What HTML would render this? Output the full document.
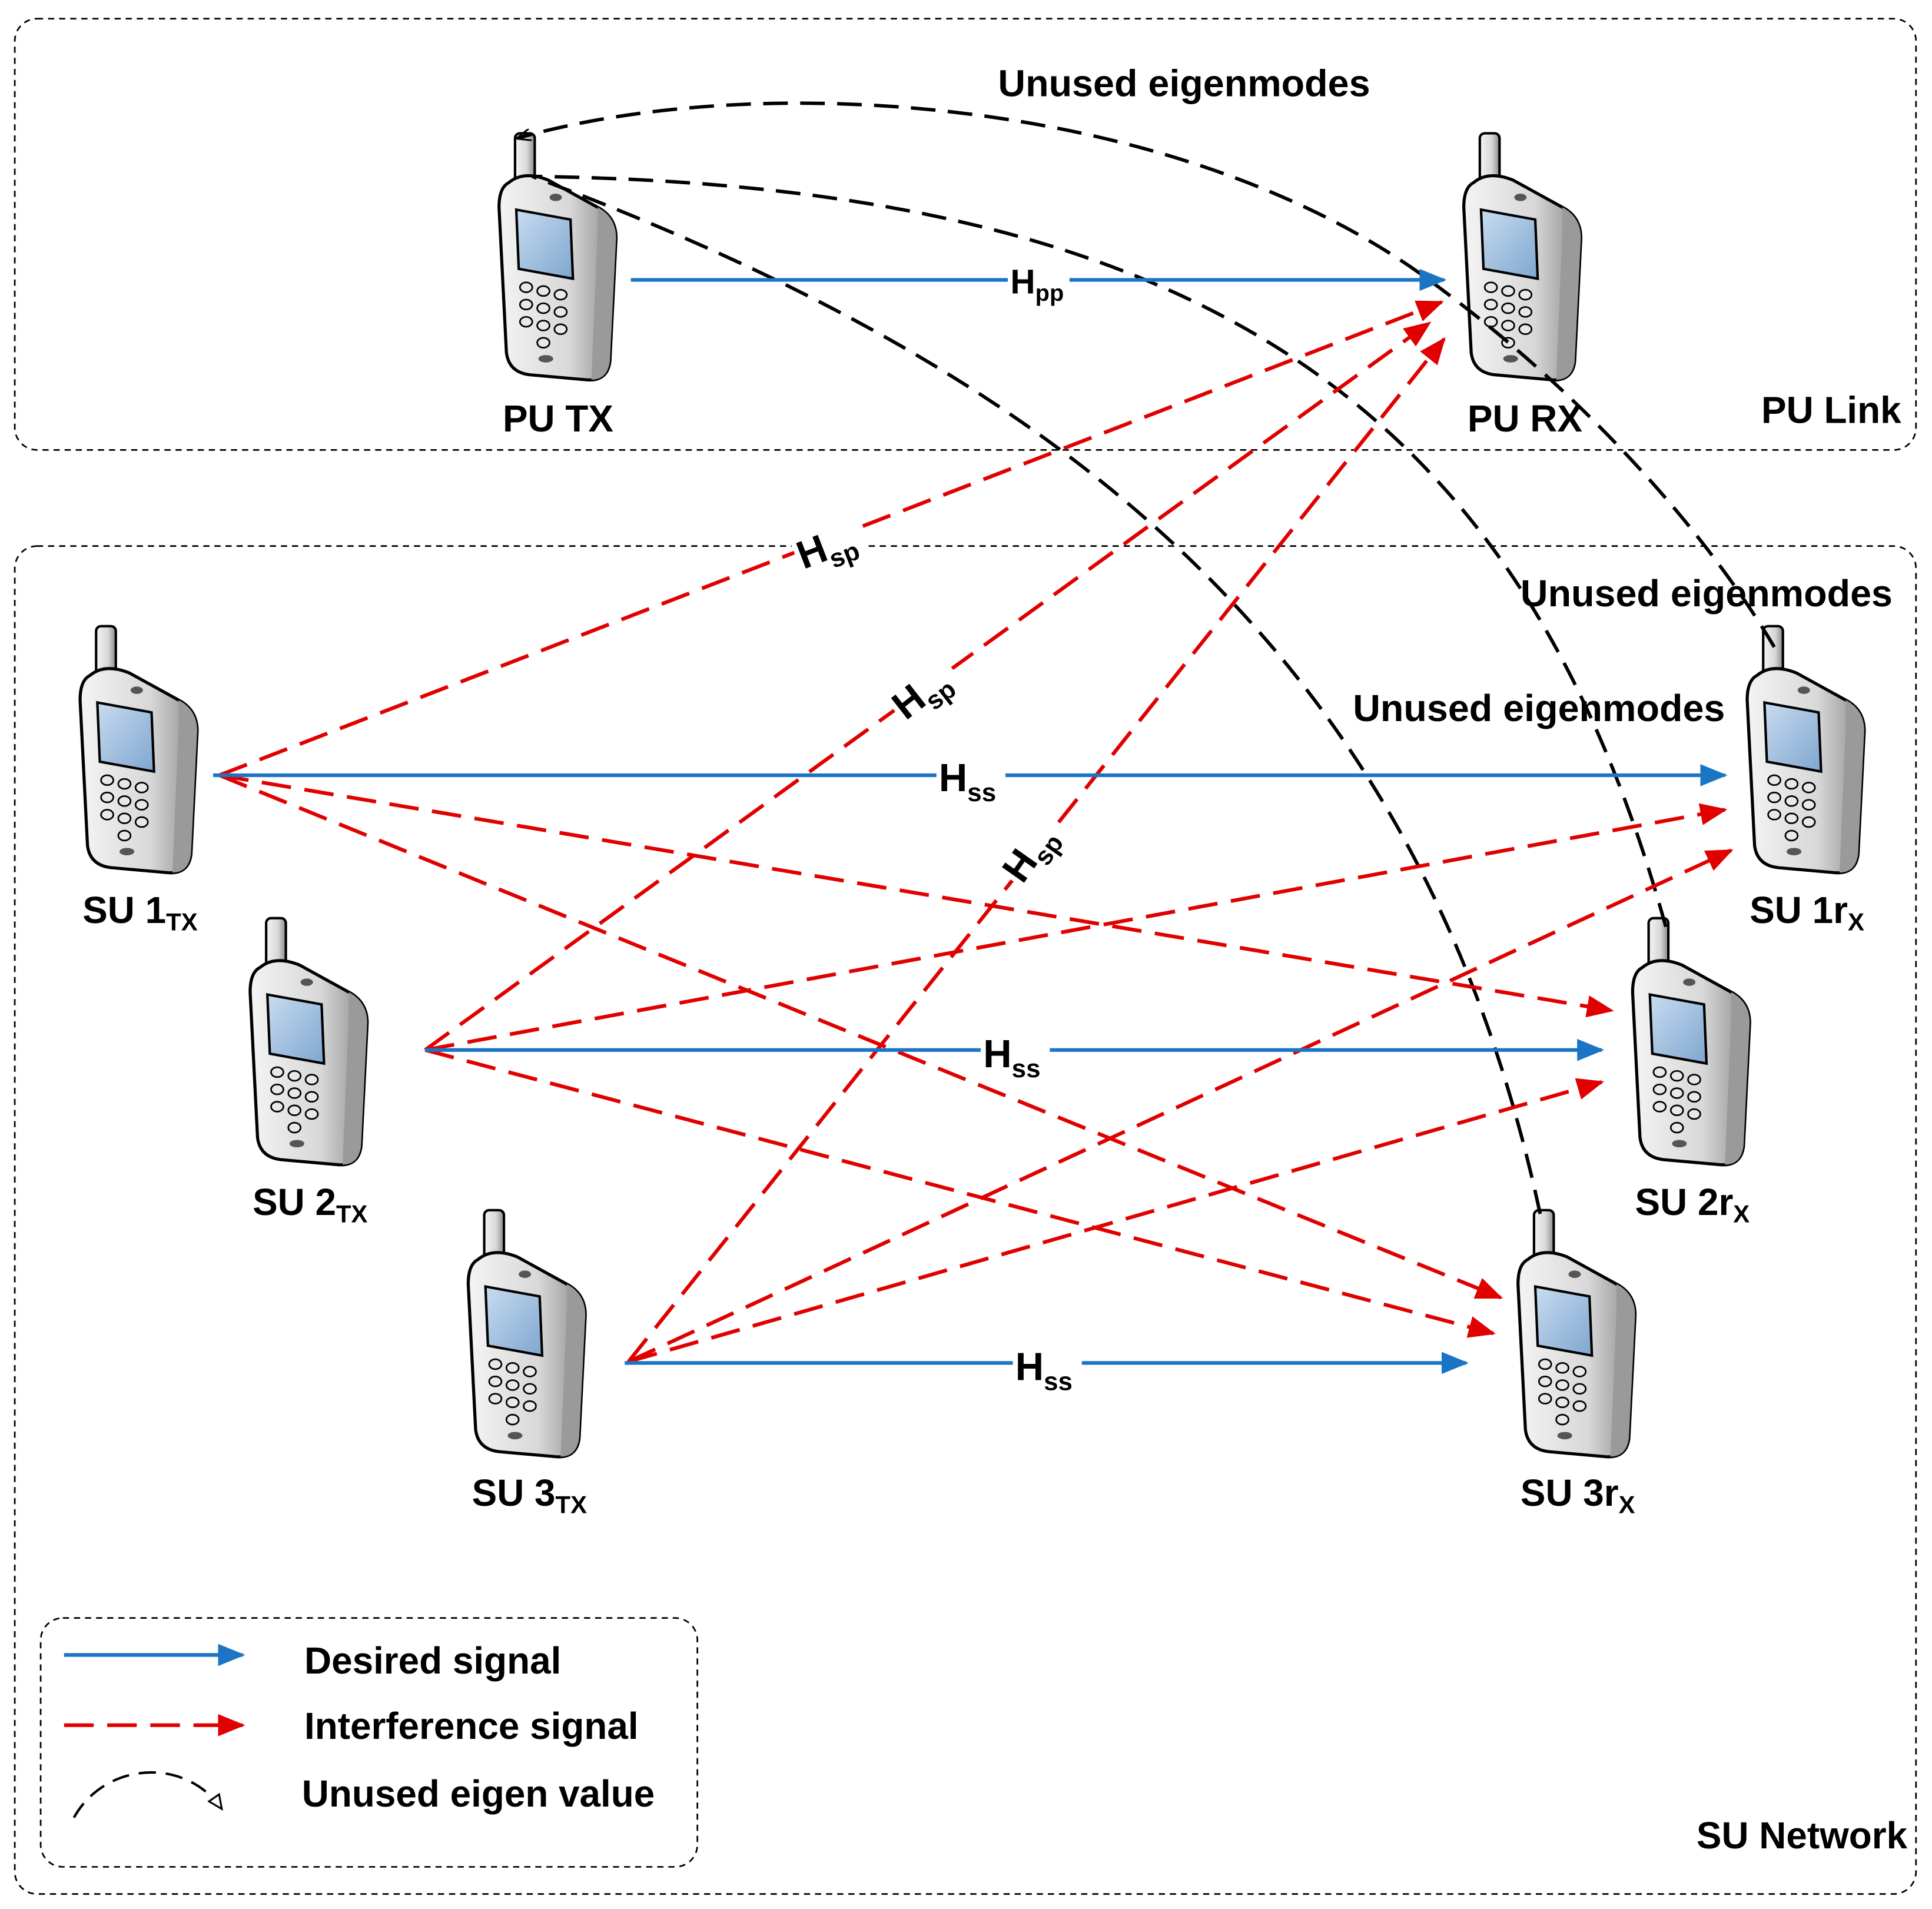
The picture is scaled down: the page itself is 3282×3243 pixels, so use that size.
<!DOCTYPE html>
<html><head><meta charset="utf-8"><style>
html,body{margin:0;padding:0;background:#fff}
svg{display:block}
text{font-family:"Liberation Sans",sans-serif;font-weight:bold;fill:#000}
</style></head><body>
<svg width="3282" height="3243" viewBox="0 0 1568 1549" xmlns="http://www.w3.org/2000/svg">
<defs>
<linearGradient id="body" x1="0" x2="1" y1="0" y2="0">
<stop offset="0" stop-color="#f4f4f4"/><stop offset="0.6" stop-color="#d8d8d8"/><stop offset="1" stop-color="#8a8a8a"/>
</linearGradient>
<linearGradient id="scr" x1="0" x2="1" y1="0" y2="1">
<stop offset="0" stop-color="#c8dcf0"/><stop offset="1" stop-color="#7fa6cf"/>
</linearGradient>
<g id="phone">
<rect x="13" y="0" width="16" height="45" rx="4" fill="url(#body)" stroke="#000" stroke-width="2"/>
<path d="M8,40 Q20,30 40,38 L80,60 Q95,68 95,85 L90,185 Q88,202 70,200 L25,196 Q8,194 6,178 L0,60 Q0,44 8,40 Z" fill="url(#body)" stroke="#000" stroke-width="2.5"/>
<path d="M80,60 Q95,68 95,85 L90,185 Q88,200 75,200 L80,80 Z" fill="#9a9a9a"/>
<ellipse cx="46" cy="52" rx="5" ry="3" fill="#555"/>
<path d="M14,62 L58,70 L60,118 L16,110 Z" fill="url(#scr)" stroke="#000" stroke-width="2"/>
<g fill="#e8e8e8" stroke="#000" stroke-width="1.3">
<ellipse cx="22" cy="125" rx="5" ry="4"/><ellipse cx="36" cy="128" rx="5" ry="4"/><ellipse cx="50" cy="131" rx="5" ry="4"/>
<ellipse cx="22" cy="139" rx="5" ry="4"/><ellipse cx="36" cy="142" rx="5" ry="4"/><ellipse cx="50" cy="145" rx="5" ry="4"/>
<ellipse cx="22" cy="153" rx="5" ry="4"/><ellipse cx="36" cy="156" rx="5" ry="4"/><ellipse cx="50" cy="159" rx="5" ry="4"/>
<ellipse cx="36" cy="170" rx="5" ry="4"/>
</g>
<ellipse cx="38" cy="183" rx="6" ry="3" fill="#555"/>
</g>
<marker id="ar" markerWidth="22" markerHeight="18" refX="20" refY="9" orient="auto" markerUnits="userSpaceOnUse"><path d="M0,0 L22,9 L0,18 Z" fill="#e00000"/></marker>
<marker id="abig" markerWidth="22" markerHeight="18" refX="20" refY="9" orient="auto" markerUnits="userSpaceOnUse"><path d="M0,0 L22,9 L0,18 Z" fill="#1b75c4"/></marker>
<marker id="ak" markerWidth="12" markerHeight="10" refX="11" refY="5" orient="auto" markerUnits="userSpaceOnUse"><path d="M0,0 L12,5 L0,10" fill="none" stroke="#000" stroke-width="1.5"/></marker>
<marker id="ao" markerWidth="14" markerHeight="12" refX="12" refY="6" orient="auto" markerUnits="userSpaceOnUse"><path d="M1,1 L12,6 L1,11 Z" fill="#fff" stroke="#000" stroke-width="1.5"/></marker>
</defs>

<rect x="12" y="15" width="1543" height="350" rx="18" fill="none" stroke="#000" stroke-width="1.3" stroke-dasharray="5,4"/>
<rect x="12" y="443" width="1543" height="1094" rx="18" fill="none" stroke="#000" stroke-width="1.3" stroke-dasharray="5,4"/>
<rect x="33" y="1313" width="533" height="202" rx="18" fill="none" stroke="#000" stroke-width="1.3" stroke-dasharray="5,4"/>

<use href="#phone" x="405" y="108"/>
<use href="#phone" x="1188" y="108"/>
<use href="#phone" x="65" y="508"/>
<use href="#phone" x="203" y="745"/>
<use href="#phone" x="380" y="982"/>
<use href="#phone" x="1418" y="508"/>
<use href="#phone" x="1325" y="745"/>
<use href="#phone" x="1232" y="982"/>

<g fill="none" stroke="#000" stroke-width="2.8" stroke-dasharray="20,10">
<path d="M1440,525 C1390,440 1290,320 1150,220 C950,80 620,55 420,112" marker-end="url(#ak)"/>
<path d="M1352,752 C1240,350 1000,150 432,143"/>
<path d="M1250,985 C1150,520 850,300 432,143"/>
</g>

<g stroke="#e00000" stroke-width="3" fill="none" stroke-dasharray="24,11">
<line x1="178" y1="629" x2="1170" y2="245" marker-end="url(#ar)"/>
<line x1="345" y1="852" x2="1160" y2="262" marker-end="url(#ar)"/>
<line x1="510" y1="1105" x2="1172" y2="275" marker-end="url(#ar)"/>
<line x1="178" y1="629" x2="1308" y2="820" marker-end="url(#ar)"/>
<line x1="178" y1="629" x2="1218" y2="1053" marker-end="url(#ar)"/>
<line x1="345" y1="852" x2="1400" y2="657" marker-end="url(#ar)"/>
<line x1="345" y1="852" x2="1212" y2="1082" marker-end="url(#ar)"/>
<line x1="510" y1="1105" x2="1405" y2="690" marker-end="url(#ar)"/>
<line x1="510" y1="1105" x2="1300" y2="878" marker-end="url(#ar)"/>
</g>

<g stroke="#1b75c4" stroke-width="3" fill="none">
<line x1="512" y1="227" x2="1172" y2="227" marker-end="url(#abig)"/>
<line x1="173" y1="629" x2="1400" y2="629" marker-end="url(#abig)"/>
<line x1="345" y1="852" x2="1300" y2="852" marker-end="url(#abig)"/>
<line x1="507" y1="1106" x2="1190" y2="1106" marker-end="url(#abig)"/>
</g>

<g>
<rect x="818" y="210" width="50" height="34" fill="#fff"/>
<text x="820" y="238" font-size="28">H<tspan font-size="19" dy="6">pp</tspan></text>
<rect x="760" y="612" width="56" height="36" fill="#fff"/>
<text x="762" y="642" font-size="32">H<tspan font-size="21" dy="8">ss</tspan></text>
<rect x="796" y="835" width="56" height="36" fill="#fff"/>
<text x="798" y="866" font-size="32">H<tspan font-size="21" dy="8">ss</tspan></text>
<rect x="822" y="1089" width="56" height="36" fill="#fff"/>
<text x="824" y="1120" font-size="32">H<tspan font-size="21" dy="8">ss</tspan></text>
<g transform="translate(652,462) rotate(-21)"><rect x="-2" y="-30" width="58" height="38" fill="#fff"/><text x="0" y="0" font-size="32">H<tspan font-size="21" dy="8">sp</tspan></text></g>
<g transform="translate(735,585) rotate(-38)"><rect x="-2" y="-30" width="58" height="38" fill="#fff"/><text x="0" y="0" font-size="32">H<tspan font-size="21" dy="8">sp</tspan></text></g>
<g transform="translate(830,718) rotate(-55)"><rect x="-2" y="-30" width="58" height="38" fill="#fff"/><text x="0" y="0" font-size="32">H<tspan font-size="21" dy="8">sp</tspan></text></g>
</g>

<g font-size="30.5">
<text x="810" y="78" textLength="302" lengthAdjust="spacingAndGlyphs">Unused eigenmodes</text>
<text x="1234" y="492" textLength="302" lengthAdjust="spacingAndGlyphs">Unused eigenmodes</text>
<text x="1098" y="585" textLength="302" lengthAdjust="spacingAndGlyphs">Unused eigenmodes</text>
<text x="408" y="350">PU TX</text>
<text x="1191" y="350">PU RX</text>
<text x="1543" y="343" text-anchor="end">PU Link</text>
<text x="1548" y="1500" text-anchor="end">SU Network</text>
<text x="67" y="749">SU 1<tspan font-size="20" dy="6">TX</tspan></text>
<text x="205" y="986">SU 2<tspan font-size="20" dy="6">TX</tspan></text>
<text x="383" y="1222">SU 3<tspan font-size="20" dy="6">TX</tspan></text>
<text x="1420" y="749">SU 1r<tspan font-size="20" dy="6">X</tspan></text>
<text x="1327" y="986">SU 2r<tspan font-size="20" dy="6">X</tspan></text>
<text x="1234" y="1222">SU 3r<tspan font-size="20" dy="6">X</tspan></text>
<text x="247" y="1358">Desired signal</text>
<text x="247" y="1411">Interference signal</text>
<text x="245" y="1466">Unused eigen value</text>
</g>

<line x1="52" y1="1343" x2="197" y2="1343" stroke="#1b75c4" stroke-width="3" marker-end="url(#abig)"/>
<line x1="52" y1="1400" x2="197" y2="1400" stroke="#e00000" stroke-width="3" stroke-dasharray="24,11" marker-end="url(#ar)"/>
<path d="M60,1475 C85,1430 150,1425 180,1468" fill="none" stroke="#000" stroke-width="2" stroke-dasharray="14,8" marker-end="url(#ao)"/>
</svg>
</body></html>
